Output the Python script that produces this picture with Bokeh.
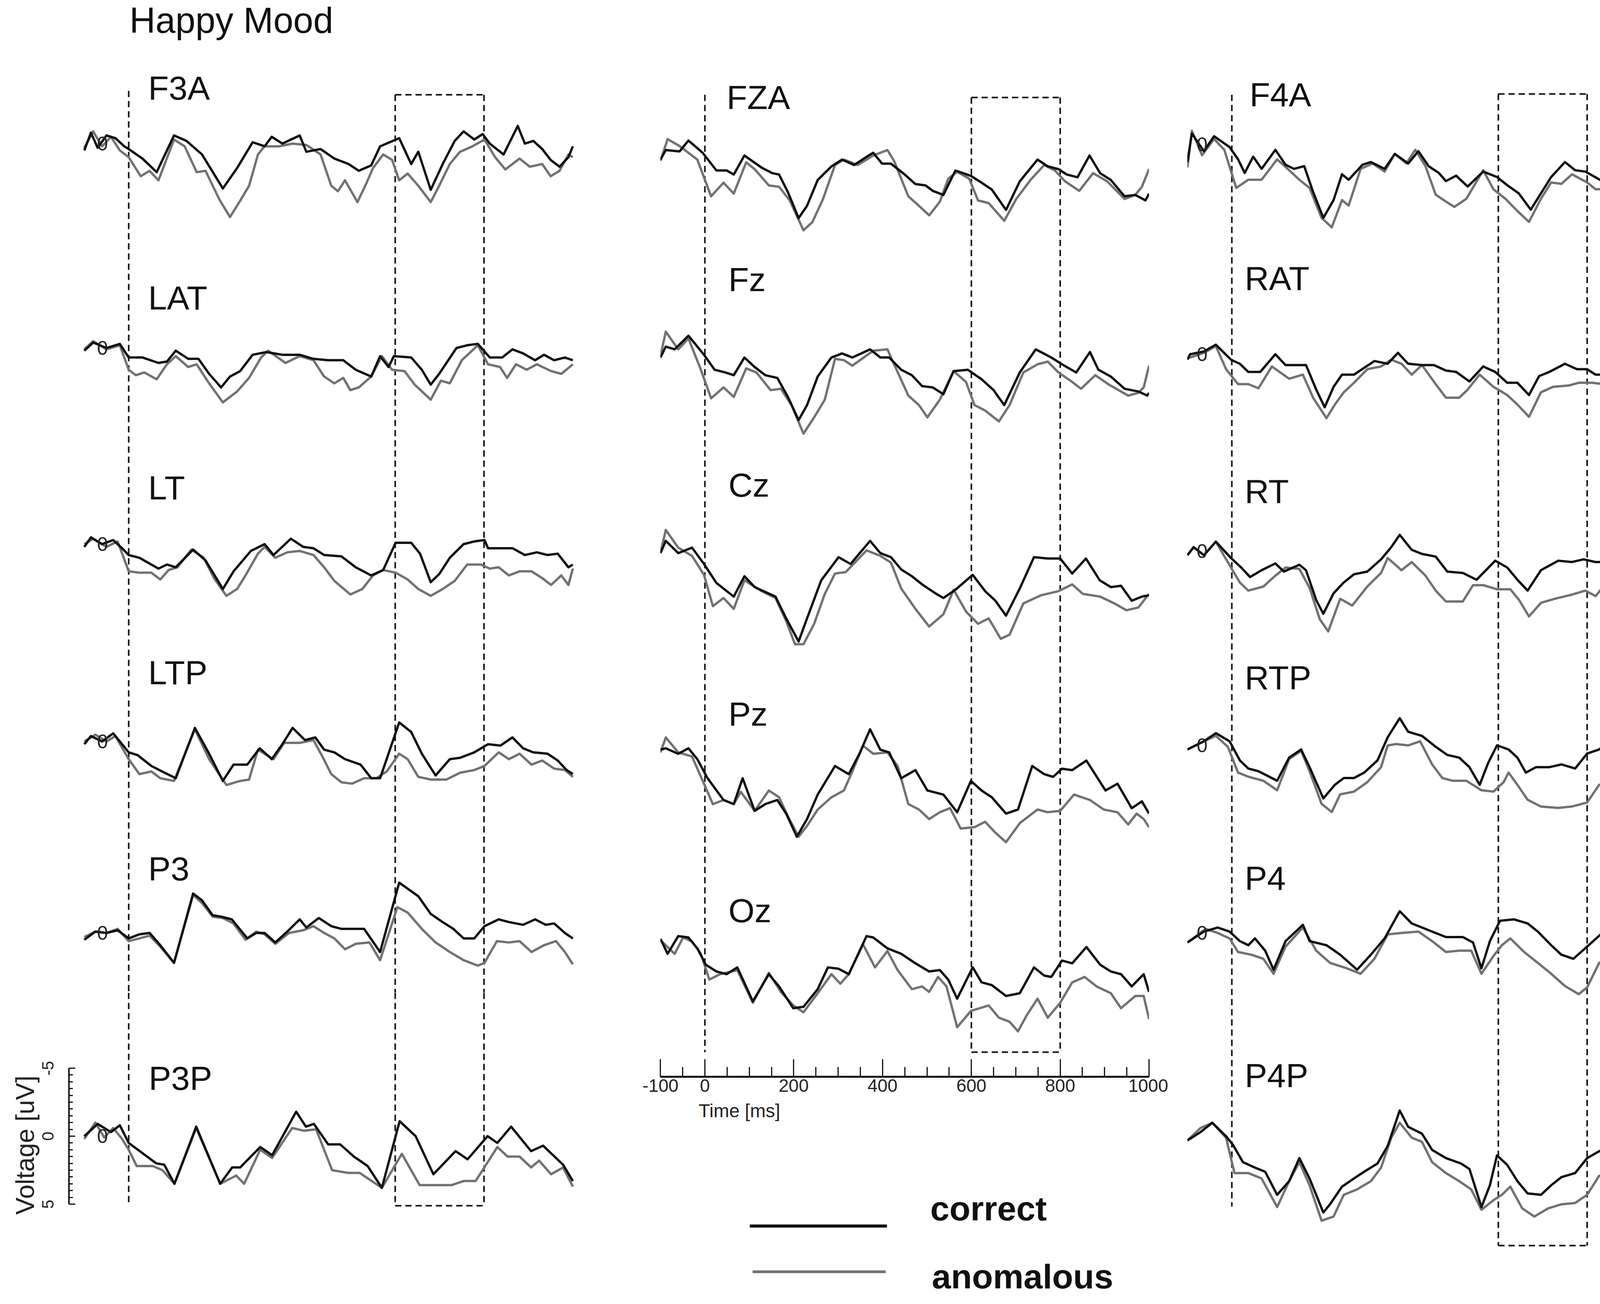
from bokeh.plotting import figure
from bokeh.models import Range1d, LinearAxis, FixedTicker, Label
from bokeh.layouts import row, column
from bokeh.embed import file_html
from bokeh.resources import INLINE
from bokeh.core.properties import value

# ---------------- data: time [ms] / voltage [uV] (negative plotted up) ----------------
F3A_t_cor = [-100,-85,-70,-50,-30,-10,0,31,63,102,130,165,212,244,279,306,322,346,385,400,432,463,495,518,546,566,609,636,652,680,707,734,754,778,797,813,844,876,892,911,931,950,970,990,1000]
F3A_v_cor = [0.5,-0.8,0.3,-0.6,-0.4,0.2,0.4,1.1,2.1,-0.6,-0.2,0.8,3.3,1.8,-0.1,0.2,-0.5,0,-0.6,0.6,0.4,1.1,1.5,2.0,1.6,0.2,-0.4,1.5,0.6,3.4,1.5,-0.2,-0.9,-0.3,-0.7,0,0.8,-1.3,0,-0.2,0.4,1.2,1.7,1.0,0.2]
F3A_t_ano = [-100,-80,-60,-40,-20,0,27,47,67,102,126,153,173,204,228,251,271,291,306,338,369,400,432,456,471,487,515,534,550,573,593,609,628,652,680,699,723,746,774,801,825,848,880,903,931,950,970,990,1000]
F3A_v_ano = [0.3,-0.9,0.2,-0.5,0.5,1.0,2.4,2.0,2.7,-0.3,0.2,2.1,2.0,4.1,5.4,4.2,3.1,0.8,0.2,0.2,0,0.1,0.8,3.1,3.5,2.7,4.3,3.0,1.8,0.8,1.2,2.7,2.2,3.1,4.3,3.1,1.5,0.6,0.2,-0.3,1.0,1.9,1.1,1.7,1.5,2.4,2.0,0.8,1.0]

LAT_t_cor = [-100,-80,-50,-20,0,31,67,86,106,134,157,181,208,228,251,279,310,346,385,416,448,483,511,546,566,585,597,636,660,680,699,738,762,786,813,841,864,888,915,935,958,982,1000]
LAT_v_cor = [0.2,-0.4,0,-0.3,0.7,0.7,1.1,1.0,0.2,0.8,0.8,1.9,2.9,2.1,1.7,0.5,0.3,0.5,0.5,0.8,0.9,0.9,1.6,2.1,0.6,1.4,0.6,0.7,1.6,2.7,1.9,0,-0.2,-0.3,0.7,0.7,0.1,0.4,0.9,0.5,0.9,0.7,0.9]
LAT_t_ano = [-100,-80,-50,-20,0,16,35,63,86,106,134,153,181,212,244,271,298,314,353,385,416,440,463,483,499,518,546,570,593,621,644,680,703,723,750,786,809,836,852,872,896,919,951,974,1000]
LAT_v_ano = [0.1,-0.5,0.1,-0.2,1.6,2.0,1.8,2.3,1.2,0.6,1.4,1.2,2.6,4.0,3.2,2.2,0.7,0.2,1.1,0.6,0.9,2.1,2.6,2.2,3.1,2.9,2.1,0.6,1.6,1.7,2.7,3.8,2.4,2.6,0.9,-0.2,1.2,1.4,2.2,1.2,1.6,1.2,1.7,1.9,1.2]

LT_t_cor = [-100,-85,-60,-35,-15,0,24,67,86,106,145,173,212,236,275,306,326,365,393,416,440,479,511,546,573,601,636,656,680,699,723,754,778,801,809,841,864,892,919,943,966,990,1000]
LT_v_cor = [0.2,-0.5,0,-0.3,0.3,0.8,1.0,1.8,1.5,1.7,0.4,1.2,3.3,2.0,0.5,0,0.8,-0.4,0.2,0.3,0.8,0.9,1.7,2.3,1.9,-0.1,-0.1,0.7,2.8,2.2,1.0,0,-0.2,-0.3,0.3,0.3,0.3,0.8,0.6,0.8,0.7,1.7,1.5]
LT_t_ano = [-100,-80,-50,-25,0,24,51,71,90,110,141,169,192,220,244,263,291,306,330,357,385,416,440,463,499,526,550,573,601,628,652,680,707,734,762,793,813,833,856,880,907,931,951,974,990,1000]
LT_v_ano = [0,-0.4,0.2,-0.2,2.0,2.1,2.1,2.6,1.9,1.7,0.4,1.0,2.5,3.8,3.3,2.3,0.7,0.2,1.0,0.6,0.5,0.8,1.7,2.7,3.7,3.3,2.3,1.9,2.1,2.6,3.3,3.8,3.3,2.7,1.5,1.5,1.8,1.7,2.3,2.0,2.0,2.5,3.0,2.3,3.0,1.8]

LTP_t_cor = [-100,-85,-60,-35,-15,0,20,51,75,106,149,181,212,236,267,295,322,346,369,397,420,440,463,487,522,546,566,609,636,660,691,723,746,778,809,837,864,888,911,943,966,986,1000]
LTP_v_cor = [0.2,-0.4,0,-0.6,0.2,0.8,1.0,1.8,2.2,2.7,-1.0,0.9,2.9,1.7,1.7,0.5,1.3,0.2,-1.0,-0.1,-0.3,0.6,0.8,1.3,1.7,2.7,2.7,-1.4,-0.7,0.9,2.5,1.3,1.2,0.8,0.2,0.3,-0.3,0.5,0.8,0.9,1.4,2.1,2.4]
LTP_t_ano = [-100,-75,-50,-30,0,24,51,71,102,149,181,220,251,271,291,326,350,385,416,436,456,479,503,530,558,581,609,628,652,680,715,746,778,801,833,856,880,907,931,958,982,1000]
LTP_v_ano = [0,-0.5,0,-0.4,1.3,2.4,2.2,2.7,2.9,-0.9,1.3,3.2,2.9,2.8,0.6,1.3,0.1,0.1,-0.1,1.1,2.4,3.0,3.1,2.7,2.7,2.2,0.9,1.3,2.6,2.8,2.8,2.3,2.1,1.8,0.8,1.3,0.9,1.7,1.4,2.0,2.1,2.6]

P3_t_cor = [-100,-75,-50,-25,0,24,47,71,102,145,165,189,208,232,267,287,306,330,357,385,400,428,456,479,530,566,609,652,680,707,731,754,778,801,833,856,888,915,939,958,982,1000]
P3_v_cor = [0.5,-0.1,0,-0.2,0.4,0.1,0,0.9,2.2,-2.9,-2.4,-1.3,-1.2,-1.0,0.4,0,0,0.7,-0.1,-1.0,-0.4,-1.1,-0.5,-0.3,-0.3,1.4,-3.7,-2.7,-1.4,-0.8,-0.3,0.4,0.4,-0.5,-1.0,-0.8,-0.6,-1.0,-0.6,-0.7,0,0.4]
P3_t_ano = [-100,-75,-50,-25,0,24,47,71,102,145,165,189,212,236,263,287,306,330,361,393,416,440,463,487,511,542,566,605,628,660,691,723,754,786,801,829,856,880,907,935,962,982,1000]
P3_v_ano = [0.3,-0.1,0,-0.3,0.6,0.4,0.2,1.0,2.2,-2.8,-2.2,-1.2,-1.1,-0.7,0.5,-0.1,0.1,0.8,0,-0.2,-0.5,0,0.4,1.2,0.8,0.7,2.0,-1.9,-1.5,-0.3,0.7,1.4,2.0,2.4,2.2,0.6,0.7,0.6,1.4,0.9,0.6,1.4,2.3]

P3P_t_cor = [-100,-70,-40,-20,0,62,80,103,152,206,233,251,296,323,377,399,417,449,476,507,538,570,610,646,686,736,763,808,830,861,906,933,978,1000]
P3P_v_cor = [0,-0.9,-0.3,-0.8,0.5,2.0,2.1,3.5,-0.7,3.5,2.3,2.3,0.8,1.4,-1.8,-0.7,-0.9,0.6,0.6,1.5,2.2,3.8,-1.1,0,2.8,1.1,1.7,0,0.5,-0.7,1.1,0.7,2.1,3.3]
P3P_t_ano = [-100,-75,-55,-35,-15,0,18,54,76,103,152,206,242,260,296,323,368,395,422,458,494,520,570,615,655,727,754,781,830,853,880,906,924,951,978,1000]
P3P_v_ano = [0.2,-1.0,0.1,-0.6,0.2,1.0,2.2,2.2,2.5,3.5,-0.6,3.5,2.9,3.5,1.0,1.6,-0.6,-0.4,-0.5,2.5,2.7,2.7,3.8,1.3,3.6,3.6,3.3,3.3,0.8,1.5,1.5,2.3,1.8,2.8,2.3,3.7]

FZA_t_cor = [-100,-88,-57,-37,-5,26,49,65,89,128,152,167,187,211,230,254,285,309,336,364,379,399,419,450,474,497,513,537,564,599,623,646,678,709,749,772,796,815,839,866,890,914,945,969,992,1000]
FZA_v_cor = [0.6,-0.1,0,-0.8,0.1,1.4,1.4,1.7,0.3,1.2,1.6,1.7,3.0,4.9,4.0,2.1,1.1,0.6,1.0,0.4,0.1,0.9,0.9,1.7,2.4,2.5,2.9,3.2,1.4,1.8,2.3,2.8,4.3,2.2,0.6,1.1,1.3,1.7,1.9,0.3,1.6,2.1,3.3,3.2,3.6,3.1]
FZA_t_ano = [-100,-84,-57,-17,14,42,65,93,112,144,167,191,222,242,266,293,313,344,379,411,426,458,482,505,529,548,568,595,615,639,674,701,733,764,788,811,843,874,906,945,969,984,1000]
FZA_v_ano = [0.7,-0.9,-0.4,0.6,3.3,2.3,3.1,0.8,1.3,2.5,2.6,3.6,5.8,5.2,3.5,1.0,0.6,1.0,0.3,-0.1,0.7,3.3,4.0,4.7,3.7,2.0,1.5,2.0,3.6,3.8,5.1,3.5,2.1,1.0,1.4,2.2,2.9,1.6,2.2,3.5,3.2,2.6,1.3]

Fz_t_cor = [-100,-88,-68,-37,-2,22,46,65,89,112,136,163,187,211,230,254,285,309,332,372,395,415,442,466,489,513,537,560,592,623,650,674,709,745,780,804,836,867,886,914,945,976,996,1000]
Fz_v_cor = [0.7,-0.1,0.1,-0.9,0.5,1.6,1.8,2.0,0.7,1.4,2.0,2.2,3.6,5.3,4.2,2.1,0.7,0.4,0.7,0.1,0.7,0.7,1.6,2.0,2.8,2.9,3.4,1.7,1.6,2.3,3.1,4.2,1.8,0.1,0.7,1.2,1.8,0.3,1.6,2.1,3.0,3.2,3.5,3.3]
Fz_t_ano = [-100,-88,-60,-37,-9,14,42,65,93,116,148,171,195,222,246,270,293,313,332,379,411,426,458,482,501,529,560,588,607,631,662,686,717,749,772,796,823,847,879,910,953,976,988,1000]
Fz_v_ano = [0.6,-1.2,0.1,-0.7,1.6,3.7,2.9,3.6,1.5,1.8,3.1,3.0,4.2,6.3,5.1,3.8,0.8,0.9,1.3,0.2,0.1,1.2,3.5,4.2,5.1,3.8,1.7,2.5,4.2,4.6,5.4,4.2,1.8,1.2,1.0,1.8,2.4,3.0,2.0,2.7,3.5,3.3,2.9,1.3]

Cz_t_cor = [-100,-88,-60,-29,-2,26,65,89,112,159,183,211,230,262,301,328,372,395,419,442,466,489,521,537,564,603,631,654,678,709,741,772,800,827,858,889,914,937,961,984,1000]
Cz_v_cor = [0.4,-0.5,0.4,0,1.2,2.6,3.6,2.1,2.9,3.6,5.2,6.9,5.2,2.4,0.7,1.2,-0.5,0.4,0.7,1.6,2.1,2.7,3.4,3.7,3.1,2.0,3.2,3.9,5.0,3.0,0.7,0.8,0.8,1.9,0.8,2.4,2.9,2.8,3.9,3.6,3.5]
Cz_t_ano = [-100,-88,-60,-29,-2,18,42,65,89,128,159,183,203,222,246,270,293,317,364,395,419,442,474,505,537,560,588,615,639,666,686,717,757,796,827,851,890,922,949,976,1000]
Cz_v_ano = [0.4,-1.3,0,0.6,2.0,4.3,3.7,4.5,2.4,3.2,3.7,5.4,7.1,7.1,5.6,3.4,1.9,1.8,0.2,0.6,1.1,3.0,4.5,5.8,4.9,3.1,4.7,5.6,5.2,6.7,6.4,4.1,3.5,3.2,2.7,3.4,3.6,4.1,4.6,4.4,3.4]

Pz_t_cor = [-100,-88,-60,-37,-17,6,42,65,85,112,136,163,183,207,230,254,293,324,348,372,395,415,442,474,501,537,568,599,623,646,678,705,737,764,784,804,827,859,902,929,961,984,1000]
Pz_v_cor = [0,-0.1,0.3,-0.1,0.7,2.1,3.7,4.0,2.1,4.5,4.0,3.7,4.7,6.4,5.1,3.3,1.2,1.8,0.3,-1.5,0,0.2,2.1,1.5,3.0,3.3,4.6,2.3,3.0,3.5,4.7,4.4,1.2,1.8,2.0,1.4,1.5,0.8,3.0,2.5,4.3,3.8,4.7]
Pz_t_ano = [-100,-88,-60,-29,2,18,42,65,81,112,144,167,187,211,230,254,285,313,332,356,379,411,434,458,482,505,529,552,576,607,631,654,678,709,749,772,800,831,867,898,929,953,972,988,1000]
Pz_v_ano = [0.2,-0.9,0.2,0.5,2.8,4.0,3.7,4.0,3.1,4.5,3.0,3.5,4.9,6.4,5.6,4.4,3.5,3.0,1.6,-0.3,0.3,0.2,1.2,4.0,4.4,5.1,4.6,4.3,5.8,5.7,5.3,6.1,6.8,5.4,4.4,4.6,4.5,3.3,3.7,4.4,4.6,5.5,4.7,5.1,5.7]

Oz_t_cor = [-100,-84,-60,-37,-17,2,26,49,73,108,144,167,199,222,254,277,301,324,364,379,411,442,474,505,529,548,568,603,623,646,678,709,741,764,780,804,827,859,890,914,937,961,988,1000]
Oz_v_cor = [-0.2,0.9,-0.4,-0.3,0.5,1.7,2.2,2.4,1.9,4.4,2.4,3.3,4.9,4.8,3.5,1.9,2.0,2.4,-0.4,-0.3,0.5,0.9,1.6,2.2,2.1,2.8,4.2,1.9,3.0,3.2,4.0,3.8,1.9,2.5,2.6,1.4,1.6,0.4,1.7,2.2,2.4,3.3,2.4,3.7]
Oz_t_ano = [-100,-68,-49,-29,-9,10,34,73,108,144,171,199,222,254,285,305,324,356,383,411,434,466,489,505,525,544,568,599,639,662,686,705,725,749,772,800,827,855,882,914,937,969,988,1000]
Oz_v_ano = [-0.1,0.9,-0.3,0,0.9,2.8,2.4,2.1,4.5,2.3,3.7,4.7,5.2,3.8,2.4,3.1,2.4,0.2,1.9,0.7,2.1,3.5,3.3,3.7,2.6,3.3,6.3,5.1,4.7,5.6,5.9,6.6,5.4,4.2,5.6,4.5,3.0,2.6,3.3,3.8,4.9,4.0,4.0,5.7]

F4A_t_cor = [-100,-90,-63,-40,-5,14,29,48,67,98,121,140,163,183,206,229,248,263,294,313,344,367,397,420,443,466,482,505,531,566,597,620,646,673,696,719,750,773,796,834,873,903,934,965,984,1000]
F4A_v_cor = [1.3,-0.8,0.5,-0.6,0.2,1.1,2.1,0.9,1.8,0.4,1.5,1.8,1.6,3.5,5.4,4.1,2.2,2.6,1.5,1.3,1.8,0.7,1.4,0.5,1.6,2.1,2.7,2.3,3.1,2.0,2.4,3.0,3.6,4.8,3.6,2.4,1.3,1.9,2.0,2.7,1.0,2.6,3.5,3.9,4.4,3.8]
F4A_t_ano = [-100,-90,-67,-40,-17,10,37,67,102,129,152,175,202,225,248,263,290,317,344,367,393,413,436,459,482,501,528,566,589,616,643,669,696,719,742,766,800,819,842,865,888,919,942,965,995,1000]
F4A_v_ano = [1.7,-1.0,0.8,-0.4,0.4,3.2,2.6,2.6,1.1,1.9,2.6,3.2,5.4,6.1,4.1,4.5,1.8,1.4,2.0,0.7,1.4,0.4,1.6,3.7,4.2,4.6,4.0,1.9,3.3,4.0,4.9,5.7,4.0,2.8,2.9,2.2,2.8,3.3,3.3,3.1,1.9,3.1,4.3,3.7,3.3,2.7]

RAT_t_cor = [-100,-94,-63,-36,-2,18,37,64,98,121,167,190,209,229,248,275,298,321,351,374,397,428,455,482,505,535,566,593,620,643,669,692,715,750,777,800,819,842,869,896,919,942,965,995]
RAT_v_cor = [0.4,0,-0.2,-0.7,0.4,0.7,1.3,1.3,0,0.8,0.8,2.6,3.9,2.4,1.5,1.5,1.0,0.5,0.7,-0.1,0.7,0.8,0.8,1.2,1.3,2.0,0.9,1.3,2.1,2.1,3.0,1.6,1.3,0.7,1.1,1.1,1.5,1.5,0.5,2.1,2.2,2.4,2.6,2.2]
RAT_t_ano = [-100,-63,-36,-13,14,37,60,90,129,160,183,213,232,252,275,305,336,359,382,405,428,459,482,512,531,558,589,620,643,669,696,723,758,781,811,838,861,888,919,950,973,995]
RAT_v_ano = [0.3,-0.1,-0.6,1.1,2.2,2.2,2.5,0.9,1.8,1.5,3.2,4.7,3.7,2.8,2.1,1.1,0.9,0.4,0.7,1.5,0.8,2.2,3.2,3.2,2.6,1.5,2.4,3.0,3.7,4.6,2.8,2.4,2.3,2.1,2.1,2.2,1.8,2.4,2.8,3.6,3.8,2.8]

RT_t_cor = [-100,-86,-63,-36,-2,21,41,67,98,117,152,167,190,206,229,252,275,305,336,359,378,405,428,459,485,520,551,593,620,643,666,696,735,765,792,819,842,869,900,926,949,980,999]
RT_v_cor = [0.3,-0.3,0.3,-0.7,0.5,1.2,1.9,1.4,0.9,1.5,1.0,1.4,3.6,4.6,3.1,2.3,1.7,1.5,0.6,-0.3,-1.2,-0.1,0.2,0.4,1.5,1.6,2.1,0.7,1.2,2.1,2.9,1.4,0.7,0.8,0.6,0.8,0.8,-0.1,1.5,1.6,2.1,2.1,2.0]
RT_t_ano = [-100,-86,-63,-36,-2,18,37,71,98,121,152,175,198,217,244,271,305,336,351,382,405,436,459,482,520,543,566,597,627,647,669,696,727,765,796,819,834,869,896,926,949,972,999]
RT_v_ano = [0.3,-0.3,0.3,-0.7,1.2,2.3,2.9,2.6,1.8,1.2,1.3,2.7,5.0,5.9,3.5,4.0,2.6,1.6,0.5,1.4,0.8,1.8,2.9,3.7,3.7,2.5,2.5,2.8,2.8,3.6,4.8,3.8,3.5,3.2,2.9,3.3,2.7,2.4,3.1,3.6,4.8,4.3,3.1]

RTP_t_cor = [-100,-63,-36,-5,18,37,60,102,129,156,175,206,232,252,275,298,328,351,378,397,428,459,485,512,535,558,577,597,623,643,662,685,715,742,773,800,827,850,873,903,934,965,988,999]
RTP_v_cor = [0.3,-0.3,-0.9,-0.3,1.1,1.7,1.9,2.6,0.9,0.3,1.6,3.9,2.9,2.4,2.4,2.0,1.1,-0.6,-2.0,-1.0,-0.7,0.1,0.7,0.9,1.6,2.9,1.3,0,0.3,0.9,2.0,1.6,1.6,1.4,1.7,0.6,0.3,-0.3,-1.0,1.1,1.4,1.9,2.0,2.7]
RTP_t_ano = [-100,-63,-36,-9,14,37,71,102,129,156,175,202,225,244,275,305,336,351,370,397,424,451,474,497,528,562,589,612,623,643,666,696,735,765,800,827,857,877,903,934,965,999]
RTP_v_ano = [0.3,-0.3,-0.7,0.1,2.0,2.3,2.6,3.3,1.0,0.4,1.9,4.3,4.9,3.6,3.4,2.7,1.6,0,-0.1,0,-0.3,1.4,2.4,2.6,2.6,3.3,3.4,2.7,2.0,2.9,4.0,4.5,4.6,4.5,4.2,2.9,2.7,2.4,3.3,4.2,4.3,4.7]

P4_t_cor = [-100,-63,-32,-5,18,37,52,75,94,121,160,175,213,244,282,313,344,378,405,428,451,482,520,543,562,581,604,635,666,689,719,742,769,800,834,869,896,919,950,977,995]
P4_v_cor = [0.7,-0.1,-0.4,-0.1,0.6,0.9,0.4,1.3,2.7,0.6,-0.6,0.6,0.9,1.6,2.7,1.6,0.4,-1.6,-0.7,-0.4,-0.1,0.3,0.3,0.7,2.6,0.6,-0.9,-1.0,-0.7,-0.1,0.9,1.6,1.9,1.0,0,-1.0,0.1,0.9,0.4,1.0,2.2]
P4_t_ano = [-100,-59,-32,-5,14,44,71,94,121,160,190,221,259,290,321,351,382,420,451,482,512,539,562,589,608,627,658,689,719,750,781,800,827,857,888,919,942,965,995]
P4_v_ano = [0.7,-0.3,0,0.4,1.4,1.6,1.9,3.0,1.0,-0.4,1.3,2.2,2.6,3.0,1.9,0.1,0,-0.1,0.6,1.4,1.3,1.3,3.0,1.7,0.9,0.4,1.4,2.2,3.0,3.9,4.5,4.0,2.2,1.9,2.4,3.0,3.6,3.3,4.3]

P4P_t_cor = [-100,-71,-44,-13,2,25,52,75,102,129,152,175,206,221,248,275,298,328,351,378,397,428,451,482,516,535,562,581,597,620,643,666,696,719,742,773,800,827,850,865,896,926,957,980,999]
P4P_v_cor = [0.6,0,-0.7,0.3,0.9,2.2,2.6,2.9,4.6,3.6,1.9,3.4,5.9,5.3,4.0,3.4,2.9,2.3,1.0,-1.6,-0.4,0.1,1.3,1.9,2.3,2.7,5.5,3.9,1.7,2.4,3.6,4.5,4.6,3.9,3.3,3.0,1.9,1.4,1.0,0.7,2.2,3.0,3.6,4.2,5.0]
P4P_t_ano = [-100,-71,-44,-13,6,37,67,102,129,152,175,202,229,252,282,313,336,359,378,405,428,451,482,512,539,562,589,608,627,654,681,712,742,773,800,827,850,873,903,934,965,995]
P4P_v_ano = [0.6,-0.3,-0.7,0.4,3.0,3.0,3.4,5.5,3.6,2.2,3.9,6.5,6.2,4.6,4.2,3.6,2.6,0.4,-0.7,0.4,0.7,2.2,3.0,3.6,4.2,5.7,5.0,4.6,4.0,5.6,6.2,5.6,5.3,5.2,4.6,3.2,3.3,3.9,4.2,4.9,4.7,6.2]

TRACES = {
    "F3A": (F3A_t_cor, F3A_v_cor, F3A_t_ano, F3A_v_ano),
    "LAT": (LAT_t_cor, LAT_v_cor, LAT_t_ano, LAT_v_ano),
    "LT": (LT_t_cor, LT_v_cor, LT_t_ano, LT_v_ano),
    "LTP": (LTP_t_cor, LTP_v_cor, LTP_t_ano, LTP_v_ano),
    "P3": (P3_t_cor, P3_v_cor, P3_t_ano, P3_v_ano),
    "P3P": (P3P_t_cor, P3P_v_cor, P3P_t_ano, P3P_v_ano),
    "FZA": (FZA_t_cor, FZA_v_cor, FZA_t_ano, FZA_v_ano),
    "Fz": (Fz_t_cor, Fz_v_cor, Fz_t_ano, Fz_v_ano),
    "Cz": (Cz_t_cor, Cz_v_cor, Cz_t_ano, Cz_v_ano),
    "Pz": (Pz_t_cor, Pz_v_cor, Pz_t_ano, Pz_v_ano),
    "Oz": (Oz_t_cor, Oz_v_cor, Oz_t_ano, Oz_v_ano),
    "F4A": (F4A_t_cor, F4A_v_cor, F4A_t_ano, F4A_v_ano),
    "RAT": (RAT_t_cor, RAT_v_cor, RAT_t_ano, RAT_v_ano),
    "RT": (RT_t_cor, RT_v_cor, RT_t_ano, RT_v_ano),
    "RTP": (RTP_t_cor, RTP_v_cor, RTP_t_ano, RTP_v_ano),
    "P4": (P4_t_cor, P4_v_cor, P4_t_ano, P4_v_ano),
    "P4P": (P4P_t_cor, P4P_v_cor, P4P_t_ano, P4P_v_ano),
}

TIME_TICKS = [-100, 0, 200, 400, 600, 800, 1000]
TIME_MINOR = [-50, 50, 100, 150, 250, 300, 350, 450, 500, 550, 650, 700, 750, 850, 900, 950]
VOLT_TICKS = [-5, 0, 5]
VOLT_MINOR = [-4.5, -4, -3.5, -3, -2.5, -2, -1.5, -1, -0.5, 0.5, 1, 1.5, 2, 2.5, 3, 3.5, 4, 4.5]
WINDOW = (600, 800)
LEGEND_LABELS = ["correct", "anomalous"]

# ---------------- layout / style ----------------
S_MS = 1.137     # px per ms
S_UV = 34.8      # px per uV
FONT = "Liberation Sans"
BLACK = "#111111"
GRAY = "#727272"
LABEL_FS = 86
MID_SHIFT = 0.35   # baseline -> middle offset (fraction of font size)

GEOM = {
    "lt":  dict(x0=0, w=1552, fl=176, fr=1530, y0=0, h=2540, ft=0, fb=2540, zero=329),
    "lb":  dict(x0=0, w=1552, fl=176, fr=1530, y0=2540, h=780, ft=2540, fb=3320, zero=329),
    "mid": dict(x0=1552, w=1438, fl=1690, fr=2941, y0=0, h=2815, ft=0, fb=2755, zero=1804),
    "rt":  dict(x0=2990, w=1310, fl=3039, fr=4290, y0=0, h=3320, ft=0, fb=3320, zero=3153),
}
LEG = dict(y0=2815, h=505)
BASE = {"F3A": 367, "LAT": 890, "LT": 1392, "LTP": 1897, "P3": 2387, "P3P": 2907,
        "FZA": 387, "Fz": 890, "Cz": 1401, "Pz": 1918, "Oz": 2409,
        "F4A": 369, "RAT": 906, "RT": 1410, "RTP": 1907, "P4": 2387, "P4P": 2897}
LABEL_POS = {"F3A": (44, 255), "LAT": (44, 792), "LT": (44, 1278), "LTP": (44, 1751),
             "P3": (44, 2253), "P3P": (45, 2789),
             "FZA": (49, 279), "Fz": (53, 745), "Cz": (53, 1271), "Pz": (53, 1857), "Oz": (53, 2360),
             "F4A": (40, 272), "RAT": (29, 742), "RT": (29, 1287), "RTP": (29, 1764),
             "P4": (29, 2277), "P4P": (29, 2782)}
ZERO_MARK = {"F3A": -59, "LAT": -59, "LT": -59, "LTP": -59, "P3": -59, "P3P": -59,
             "F4A": -67, "RAT": -67, "RT": -67, "RTP": -67, "P4": -67}
COLS = {"lt": ["F3A", "LAT", "LT", "LTP", "P3"], "lb": ["P3P"],
        "mid": ["FZA", "Fz", "Cz", "Pz", "Oz"], "rt": ["F4A", "RAT", "RT", "RTP", "P4", "P4P"]}
GUIDES = {"lt": (232, 2540, 242, 2540, True, False),
          "lb": (2540, 3085, 2540, 3085, False, True),
          "mid": (242, 2692, 249, 2692, True, True),
          "rt": (242, 3087, 240, 3187, True, True)}


def make_fig(g):
    p = figure(width=g["w"], height=g["h"], output_backend="svg", toolbar_location=None,
               x_axis_type=None, y_axis_type=None, title=None,
               min_border_left=g["fl"] - g["x0"], min_border_right=g["x0"] + g["w"] - g["fr"],
               min_border_top=g["ft"] - g["y0"], min_border_bottom=g["y0"] + g["h"] - g["fb"],
               x_range=Range1d((g["fl"] - g["zero"]) / S_MS, (g["fr"] - g["zero"]) / S_MS),
               y_range=Range1d(g["fb"], g["ft"]))
    p.outline_line_color = None
    p.background_fill_color = "white"
    p.border_fill_color = "white"
    return p


def add_guides(p, key):
    zt, zb, bt, bb, top_edge, bot_edge = GUIDES[key]
    x0 = [0, WINDOW[0], WINDOW[1]]
    y0 = [zt, bt, bt]
    x1 = [0, WINDOW[0], WINDOW[1]]
    y1 = [zb, bb, bb]
    if top_edge:
        x0.append(WINDOW[0]); y0.append(bt); x1.append(WINDOW[1]); y1.append(bt)
    if bot_edge:
        x0.append(WINDOW[0]); y0.append(bb); x1.append(WINDOW[1]); y1.append(bb)
    p.segment(x0=x0, y0=y0, x1=x1, y1=y1, line_color=BLACK, line_width=4, line_dash="16 10")


def add_panel(p, g, name):
    b = BASE[name]
    p.extra_y_ranges[name] = Range1d((g["fb"] - b) / S_UV, (g["ft"] - b) / S_UV)
    tc, vc, ta, va = TRACES[name]
    n = min(len(ta), len(va))
    p.line(ta[:n], va[:n], y_range_name=name, line_color=GRAY, line_width=6, line_join="round")
    n = min(len(tc), len(vc))
    p.line(tc[:n], vc[:n], y_range_name=name, line_color=BLACK, line_width=6, line_join="round")
    lx, lb = LABEL_POS[name]
    p.add_layout(Label(x=lx, y=lb - MID_SHIFT * LABEL_FS, text=name, text_font=FONT,
                       text_font_size=f"{LABEL_FS}px", text_color=BLACK, text_baseline="middle"))
    if name in ZERO_MARK:
        p.text(x=[ZERO_MARK[name]], y=[0], text=["0"], y_range_name=name,
               text_font=value(FONT), text_font_size="50px", text_color="#222222",
               text_align="center", text_baseline="middle")


figs = {}
for key, g in GEOM.items():
    p = make_fig(g)
    add_guides(p, key)
    for name in COLS[key]:
        add_panel(p, g, name)
    figs[key] = p

TITLE_FS = 92
figs["lt"].add_layout(Label(x=(331 - GEOM["lt"]["zero"]) / S_MS, y=84 - MID_SHIFT * TITLE_FS,
                            text="Happy Mood", text_font=FONT, text_font_size=f"{TITLE_FS}px",
                            text_color=BLACK, text_baseline="middle"))

yax = LinearAxis(y_range_name="P3P", bounds=(VOLT_TICKS[0], VOLT_TICKS[-1]),
                 ticker=FixedTicker(ticks=VOLT_TICKS, minor_ticks=VOLT_MINOR),
                 major_label_overrides={-5: "-5"},
                 axis_line_color=BLACK, axis_line_width=4,
                 major_tick_in=16, major_tick_out=0, major_tick_line_width=3, major_tick_line_color=BLACK,
                 minor_tick_in=10, minor_tick_out=0, minor_tick_line_width=3, minor_tick_line_color=BLACK,
                 major_label_orientation="vertical", major_label_standoff=40,
                 major_label_text_font=FONT, major_label_text_font_size="42px",
                 major_label_text_color="#222222",
                 axis_label="Voltage [uV]", axis_label_text_font=FONT,
                 axis_label_text_font_size="66px", axis_label_text_font_style="normal",
                 axis_label_text_color="#222222", axis_label_standoff=4)
figs["lb"].add_layout(yax, "left")

xax = LinearAxis(bounds=(TIME_TICKS[0], TIME_TICKS[-1]),
                 ticker=FixedTicker(ticks=TIME_TICKS, minor_ticks=TIME_MINOR),
                 major_label_overrides={-100: "-100"},
                 axis_line_color=BLACK, axis_line_width=5,
                 major_tick_in=45, major_tick_out=0, major_tick_line_width=3, major_tick_line_color=BLACK,
                 minor_tick_in=25, minor_tick_out=0, minor_tick_line_width=3, minor_tick_line_color=BLACK,
                 major_label_standoff=6, major_label_text_font=FONT, major_label_text_font_size="46px",
                 major_label_text_color="#222222")
figs["mid"].add_layout(xax, "below")

mg = GEOM["mid"]
def ms(px):
    return (px - mg["zero"]) / S_MS

leg = figure(width=mg["w"], height=LEG["h"], output_backend="svg", toolbar_location=None,
             x_axis_type=None, y_axis_type=None, title=None,
             min_border_left=mg["fl"] - mg["x0"], min_border_right=mg["x0"] + mg["w"] - mg["fr"],
             min_border_top=0, min_border_bottom=0,
             x_range=figs["mid"].x_range, y_range=Range1d(LEG["y0"] + LEG["h"], LEG["y0"]))
leg.outline_line_color = None
leg.background_fill_color = "white"
leg.border_fill_color = "white"
TFS = 48
leg.text(x=[ms(1788)], y=[2859 - MID_SHIFT * TFS], text=["Time [ms]"], text_font=value(FONT),
         text_font_size=f"{TFS}px", text_color="#222222", text_baseline="middle", text_align="left")
leg.segment(x0=[ms(1919)], y0=[3137], x1=[ms(2270)], y1=[3137], line_color=BLACK, line_width=8)
leg.segment(x0=[ms(1926)], y0=[3254], x1=[ms(2267)], y1=[3254], line_color=GRAY, line_width=7)
LFS = 88
leg.text(x=[ms(2381), ms(2385)], y=[3123 - MID_SHIFT * LFS, 3297 - MID_SHIFT * LFS],
         text=LEGEND_LABELS, text_font=value(FONT),
         text_font_size=f"{LFS}px", text_font_style="bold", text_color=BLACK,
         text_baseline="middle", text_align="left")

layout = row(column(figs["lt"], figs["lb"]), column(figs["mid"], leg), figs["rt"])
open("out.html", "w").write(file_html(layout, INLINE, "Happy Mood"))
